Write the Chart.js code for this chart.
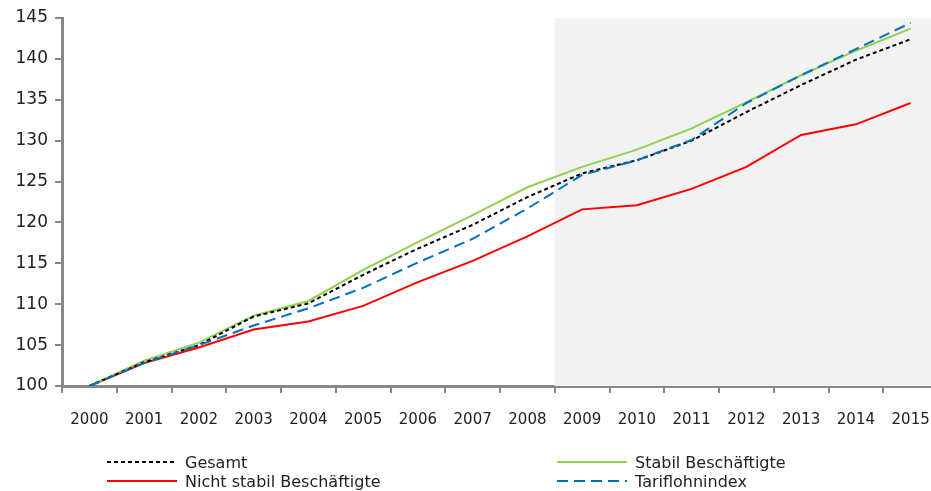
<!DOCTYPE html>
<html lang="de">
<head>
  <meta charset="UTF-8">
  <title>Lohnentwicklung 2000-2015</title>
  <script src="https://cdn.jsdelivr.net/npm/chart.js"></script>
  <style>
    body{margin:0;background:#fff;font-family:'DejaVu Sans',sans-serif;color:#222;overflow:hidden;}
    /* plot runs slightly past the right edge of the window, as in the original */
    .wrap{position:relative;width:939px;height:491px;}
    #legend{position:absolute;left:0;top:0;width:931px;height:491px;pointer-events:none;}
    .item{position:absolute;display:flex;align-items:center;height:20px;font-size:16px;white-space:nowrap;}
    .item svg{margin-right:8px;}
  </style>
</head>
<body>
  <div class="wrap">
    <canvas id="lineChart"></canvas>
    <div id="legend"></div>
  </div>
  <script>
    const years = ['2000','2001','2002','2003','2004','2005','2006','2007','2008','2009','2010','2011','2012','2013','2014','2015'];
    const gesamt      = [100, 102.9, 105.0, 108.5, 110.1, 113.6, 116.8, 119.7, 123.1, 126.0, 127.6, 130.0, 133.5, 136.8, 139.9, 142.4];
    const stabil      = [100, 103.1, 105.3, 108.6, 110.4, 114.2, 117.6, 120.9, 124.3, 126.8, 128.9, 131.5, 134.7, 138.0, 141.0, 143.7];
    const nichtStabil = [100, 102.8, 104.7, 106.9, 107.9, 109.8, 112.7, 115.3, 118.3, 121.6, 122.1, 124.1, 126.8, 130.7, 132.0, 134.6];
    const tarif       = [100, 102.8, 105.0, 107.4, 109.5, 112.0, 115.1, 118.0, 121.7, 125.8, 127.6, 130.1, 134.6, 138.0, 141.2, 144.4];
    const shadeFrom = '2009';

    const datasets = [
      {label:'Gesamt', data:gesamt, borderColor:'#000000', borderDash:[4,3], order:1},
      {label:'Stabil Beschäftigte', data:stabil, borderColor:'#92d050', order:2},
      {label:'Nicht stabil Beschäftigte', data:nichtStabil, borderColor:'#ff0000', order:3},
      {label:'Tariflohnindex', data:tarif, borderColor:'#0070c0', borderDash:[11,6], order:0}
    ];
    datasets.forEach(function(d){
      d.borderWidth = 2; d.pointRadius = 0; d.fill = false; d.tension = 0;
    });

    // grey background for the later years
    const shade = {
      id:'shade',
      beforeDatasetsDraw(chart){
        const x = chart.scales.x, a = chart.chartArea, ctx = chart.ctx;
        const i = years.indexOf(shadeFrom);
        const left = (x.getPixelForValue(i - 1) + x.getPixelForValue(i)) / 2;
        ctx.save();
        ctx.fillStyle = '#f2f2f2';
        ctx.fillRect(left, a.top, a.right - left, a.bottom - a.top);
        ctx.restore();
      }
    };

    new Chart(document.getElementById('lineChart'), {
      type:'line',
      data:{labels:years, datasets:datasets},
      plugins:[shade],
      options:{
        responsive:true,
        maintainAspectRatio:false,
        animation:false,
        layout:{padding:{top:18, right:1, left:0, bottom:0}},
        plugins:{legend:{display:false}, tooltip:{enabled:false}},
        scales:{
          x:{
            offset:true,
            afterFit(s){ s.height = 105; s.paddingLeft = 0; s.paddingRight = 0; },
            grid:{offset:true, drawOnChartArea:false, drawTicks:true, tickLength:7, color:'#888', lineWidth:2},
            border:{color:'#888', width:3},
            ticks:{color:'#222', font:{family:'DejaVu Sans', size:15}, padding:18, maxRotation:0}
          },
          y:{
            min:100, max:145,
            afterFit(s){ s.width = 62; },
            grid:{drawOnChartArea:false, drawTicks:true, tickLength:7, color:'#888', lineWidth:2},
            border:{color:'#888', width:3},
            ticks:{stepSize:5, color:'#222', font:{family:'DejaVu Sans', size:17}, padding:7}
          }
        }
      }
    });

    // legend in two columns, as in the original
    const slots = [[107,452],[557,452],[107,471],[557,471]];
    const legendOrder = [0,1,2,3];
    const legend = document.getElementById('legend');
    legendOrder.forEach(function(idx, k){
      const d = datasets[idx];
      const dash = d.borderDash ? d.borderDash.join(' ') : 'none';
      const el = document.createElement('div');
      el.className = 'item';
      el.style.left = slots[k][0] + 'px';
      el.style.top = slots[k][1] + 'px';
      el.innerHTML = '<svg width="70" height="10"><line x1="0" y1="5" x2="70" y2="5" stroke="' + d.borderColor +
        '" stroke-width="2" stroke-dasharray="' + dash + '"/></svg><span>' + d.label + '</span>';
      legend.appendChild(el);
    });
  </script>
</body>
</html>
